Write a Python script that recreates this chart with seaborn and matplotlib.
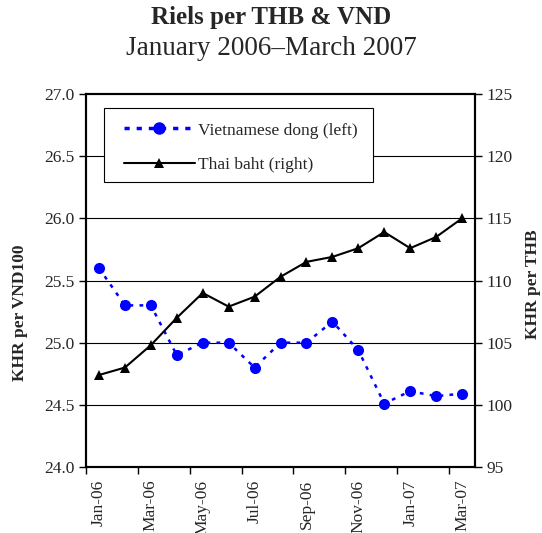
import pandas as pd
import numpy as np
import matplotlib
matplotlib.use("Agg")
import matplotlib.pyplot as plt
import seaborn as sns
from matplotlib.lines import Line2D
from matplotlib.patches import Rectangle

# data
months = ["Jan-06", "Feb-06", "Mar-06", "Apr-06", "May-06", "Jun-06", "Jul-06", "Aug-06",
          "Sep-06", "Oct-06", "Nov-06", "Dec-06", "Jan-07", "Feb-07", "Mar-07"]
vnd = [25.6, 25.3, 25.3, 24.9, 25.0, 25.0, 24.8, 25.0, 25.0, 25.17, 24.94, 24.51, 24.61, 24.57, 24.59]
thb = [102.4, 103.0, 104.8, 107.0, 109.0, 107.9, 108.7, 110.3, 111.5, 111.9, 112.6, 113.9, 112.6, 113.5, 115.0]
left_ticks = [24.0, 24.5, 25.0, 25.5, 26.0, 26.5, 27.0]
right_ticks = [95, 100, 105, 110, 115, 120, 125]

df = pd.DataFrame({"month": months, "pos": np.arange(len(months)), "vnd": vnd, "thb": thb})

sns.set_style("white")
plt.rcParams['font.family'] = ['Liberation Serif', 'DejaVu Serif']

fig = plt.figure(figsize=(5.42, 5.33), dpi=100)
ax = fig.add_axes([0.1587, 0.1238, 0.7177, 0.6998])
ax2 = ax.twinx()

# grid lines behind
for t in left_ticks[1:-1]:
    ax.axhline(t, color='black', lw=0.8, zorder=0)

sns.lineplot(data=df, x="pos", y="vnd", ax=ax, color='#0000ff', lw=1.8,
             linestyle=(0, (1.5, 2.5)), marker='o', markersize=8, markeredgewidth=0, zorder=3)
sns.lineplot(data=df, x="pos", y="thb", ax=ax2, color='black', lw=1.5,
             marker='^', markersize=7, markeredgewidth=0, zorder=3)

ax.set_xlim(-0.5, len(months) - 0.5)
ax.set_ylim(24.0, 27.0)
ax2.set_ylim(95, 125)
ax.set_yticks(left_ticks)
ax.set_yticklabels([f"{t:.1f}" for t in left_ticks])
ax2.set_yticks(right_ticks)
ax2.set_yticklabels([str(t) for t in right_ticks])

ax.set_xticks(df["pos"][::2])
ax.set_xticklabels(df["month"][::2], rotation=90)
ax.set_xticks(np.arange(-0.5, len(months) - 1, 2), minor=True)
ax.tick_params(axis='x', which='major', length=0, pad=9, labelsize=12.5)
ax.tick_params(axis='x', which='minor', length=5, width=1, color='black', direction='out', bottom=True)
ax.tick_params(axis='y', length=5, width=1, color='black', direction='out', left=True, labelsize=12.5, pad=3)
ax2.tick_params(axis='y', length=5, width=1, color='black', direction='out', right=True, labelsize=12.5, pad=3)

ax.set_xlabel("")
ax.set_ylabel("KHR per VND100", fontsize=12.5, fontweight='bold', va='center', rotation=90)
ax.yaxis.set_label_coords(-0.17, 0.413)
ax2.set_ylabel("KHR per THB", fontsize=12.5, fontweight='bold', va='center', rotation=90)
ax2.yaxis.set_label_coords(1.149, 0.49)

for a in (ax, ax2):
    for s in a.spines.values():
        s.set_color('black')
        s.set_linewidth(1.5)

# legend box drawn separately so its padding can match the original
ax.add_patch(Rectangle((0.0463, 0.7641), 0.6915, 0.1984, transform=ax.transAxes,
                       facecolor='white', edgecolor='black', lw=0.8, zorder=4))
handles = [Line2D([], [], color='#0000ff', lw=2.5, linestyle=(0, (1.5, 2)), marker='o', markersize=9,
                  markeredgewidth=0),
           Line2D([], [], color='black', lw=1.5, marker='^', markersize=7, markeredgewidth=0)]
leg = ax.legend(handles, ["Vietnamese dong (left)", "Thai baht (right)"], loc='upper left',
                bbox_to_anchor=(0.0977, 0.924), borderaxespad=0, borderpad=0, fontsize=12.5,
                frameon=False, handlelength=4.08, labelspacing=1.05, handletextpad=0.17)
if ax2.get_legend():
    ax2.get_legend().remove()
leg.set_zorder(5)

fig.text(0.5, 0.988, "Riels per THB & VND", ha='center', va='top', fontsize=18, fontweight='bold')
fig.text(0.5, 0.933, "January 2006\u2013March 2007", ha='center', va='top', fontsize=19.5)

fig.savefig("out.png", dpi=100)
